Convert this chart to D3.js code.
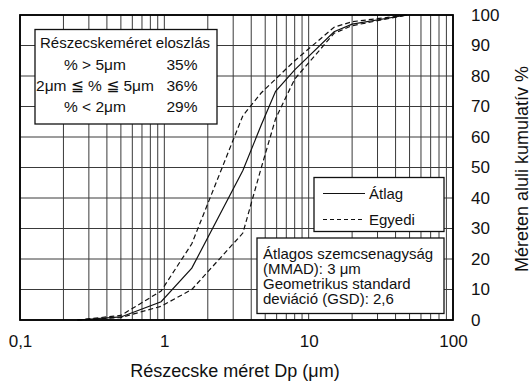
<!DOCTYPE html>
<html>
<head>
<meta charset="utf-8">
<script src="https://cdn.jsdelivr.net/npm/d3@7"></script>
<style>
  html, body { margin: 0; padding: 0; background: #fff; }
  svg { display: block; font-family: "Liberation Sans", Arial, "DejaVu Sans", sans-serif; }
</style>
</head>
<body>
<svg id="chart" width="531" height="382"></svg>
<script>
// Particle diameters (μm) at which the cumulative curves were measured
const sizes = [0.25, 0.5, 0.95, 1.55, 3.5, 4.7, 5.9, 8, 15, 20, 48];
// Cumulative % undersize: mean curve and the two individual curves
const meanPct  = [0, 1, 6, 17, 49, 64, 75, 82, 94.5, 97, 100];
const upperPct = [0, 1.5, 9.5, 25, 67, 74.5, 79, 85, 96, 97.8, 100];
const lowerPct = [0, 0.8, 4.5, 10, 28.5, 50, 66, 79, 94, 96.5, 100];

const xTickLabels = ["0,1", "1", "10", "100"];
const xTickValues = [0.1, 1, 10, 100];
const yTickValues = [0, 10, 20, 30, 40, 50, 60, 70, 80, 90, 100];

const xTitle = "Részecske méret Dp (μm)";
const yTitle = "Méreten aluli kumulatív %";

const distTitle = "Részecskeméret eloszlás";
const distRanges = ["% > 5μm", "2μm ≦ % ≦ 5μm", "% < 2μm"];
const distShares = ["35%", "36%", "29%"];

const legendLabels = ["Átlag", "Egyedi"];
const statLines = ["Átlagos szemcsenagyság", "(MMAD): 3 μm", "Geometrikus standard", "deviáció (GSD): 2,6"];

const svg = d3.select("#chart");
const plot = { left: 20, right: 453, top: 15, bottom: 320 };

const x = d3.scaleLog().domain([0.1, 100]).range([plot.left, plot.right]);
const y = d3.scaleLinear().domain([0, 100]).range([plot.bottom, plot.top]);

// Grid: every 1..9 × 10^k vertically, every 10 % horizontally
const grid = svg.append("g").attr("stroke", "#3a3a3a").attr("stroke-width", 1);
grid.selectAll("line.v").data(x.ticks()).join("line")
  .attr("class", "v")
  .attr("x1", d => x(d)).attr("x2", d => x(d))
  .attr("y1", plot.top).attr("y2", plot.bottom);
grid.selectAll("line.h").data(yTickValues).join("line")
  .attr("class", "h")
  .attr("x1", plot.left).attr("x2", plot.right)
  .attr("y1", d => y(d)).attr("y2", d => y(d));

// Curves
const line = d3.line().x((d, i) => x(sizes[i])).y(d => y(d));
const curves = [
  { values: upperPct, dash: "5,3" },
  { values: lowerPct, dash: "5,3" },
  { values: meanPct, dash: null }
];
svg.append("g").selectAll("path").data(curves).join("path")
  .attr("d", d => line(d.values))
  .attr("fill", "none")
  .attr("stroke", "#111")
  .attr("stroke-width", 1.2)
  .attr("stroke-dasharray", d => d.dash);

// Frame
svg.append("rect")
  .attr("x", plot.left).attr("y", plot.top)
  .attr("width", plot.right - plot.left).attr("height", plot.bottom - plot.top)
  .attr("fill", "none").attr("stroke", "#000").attr("stroke-width", 1.8);

// Axes
const xAxis = svg.append("g")
  .attr("transform", `translate(0,${plot.bottom})`)
  .call(d3.axisBottom(x).tickValues(xTickValues)
    .tickFormat((d, i) => xTickLabels[i]).tickSize(0).tickPadding(15));
const yAxis = svg.append("g")
  .attr("transform", `translate(${plot.right},0)`)
  .call(d3.axisRight(y).tickValues(yTickValues).tickSize(0).tickPadding(18));
[xAxis, yAxis].forEach(a => {
  a.select(".domain").remove();
  a.selectAll("text").attr("font-size", 17).attr("fill", "#111")
    .attr("font-family", "Liberation Sans, Arial, sans-serif");
});

svg.append("text")
  .attr("x", 235).attr("y", 377)
  .attr("text-anchor", "middle").attr("font-size", 18).attr("fill", "#111")
  .text(xTitle);
svg.append("text")
  .attr("transform", "translate(528,169) rotate(-90)")
  .attr("text-anchor", "middle").attr("font-size", 18).attr("fill", "#111")
  .text(yTitle);

// Box helper
function box(x0, y0, x1, y1) {
  return svg.append("rect")
    .attr("x", x0).attr("y", y0).attr("width", x1 - x0).attr("height", y1 - y0)
    .attr("fill", "#fff").attr("stroke", "#111").attr("stroke-width", 1.3);
}

// Particle size distribution box
box(35, 29.5, 217, 124);
const dist = svg.append("g").attr("font-size", 15).attr("fill", "#111");
dist.append("text").attr("x", 125).attr("y", 48).attr("text-anchor", "middle").text(distTitle);
distRanges.forEach((t, i) => {
  dist.append("text").attr("x", 95).attr("y", 70 + i * 21)
    .attr("text-anchor", "middle").attr("font-size", 15.5).text(t);
  dist.append("text").attr("x", 166.5).attr("y", 70 + i * 21)
    .attr("font-size", 15.5).text(distShares[i]);
});

// Legend
box(314, 177.5, 444, 231.5);
const leg = svg.append("g");
[null, "4,3"].forEach((dash, i) => {
  const ly = 193.5 + i * 26;
  leg.append("line")
    .attr("x1", 323).attr("x2", 365).attr("y1", ly).attr("y2", ly)
    .attr("stroke", "#111").attr("stroke-width", 1.2)
    .attr("stroke-dasharray", dash);
  leg.append("text").attr("x", 369).attr("y", ly + 5.5)
    .attr("font-size", 15).attr("fill", "#111").text(legendLabels[i]);
});

// Summary statistics box
box(257, 238, 444, 313.5);
const stats = svg.append("g").attr("font-size", 15).attr("fill", "#111");
statLines.forEach((t, i) => {
  stats.append("text").attr("x", 263).attr("y", 258.5 + i * 15).text(t);
});
</script>
</body>
</html>
